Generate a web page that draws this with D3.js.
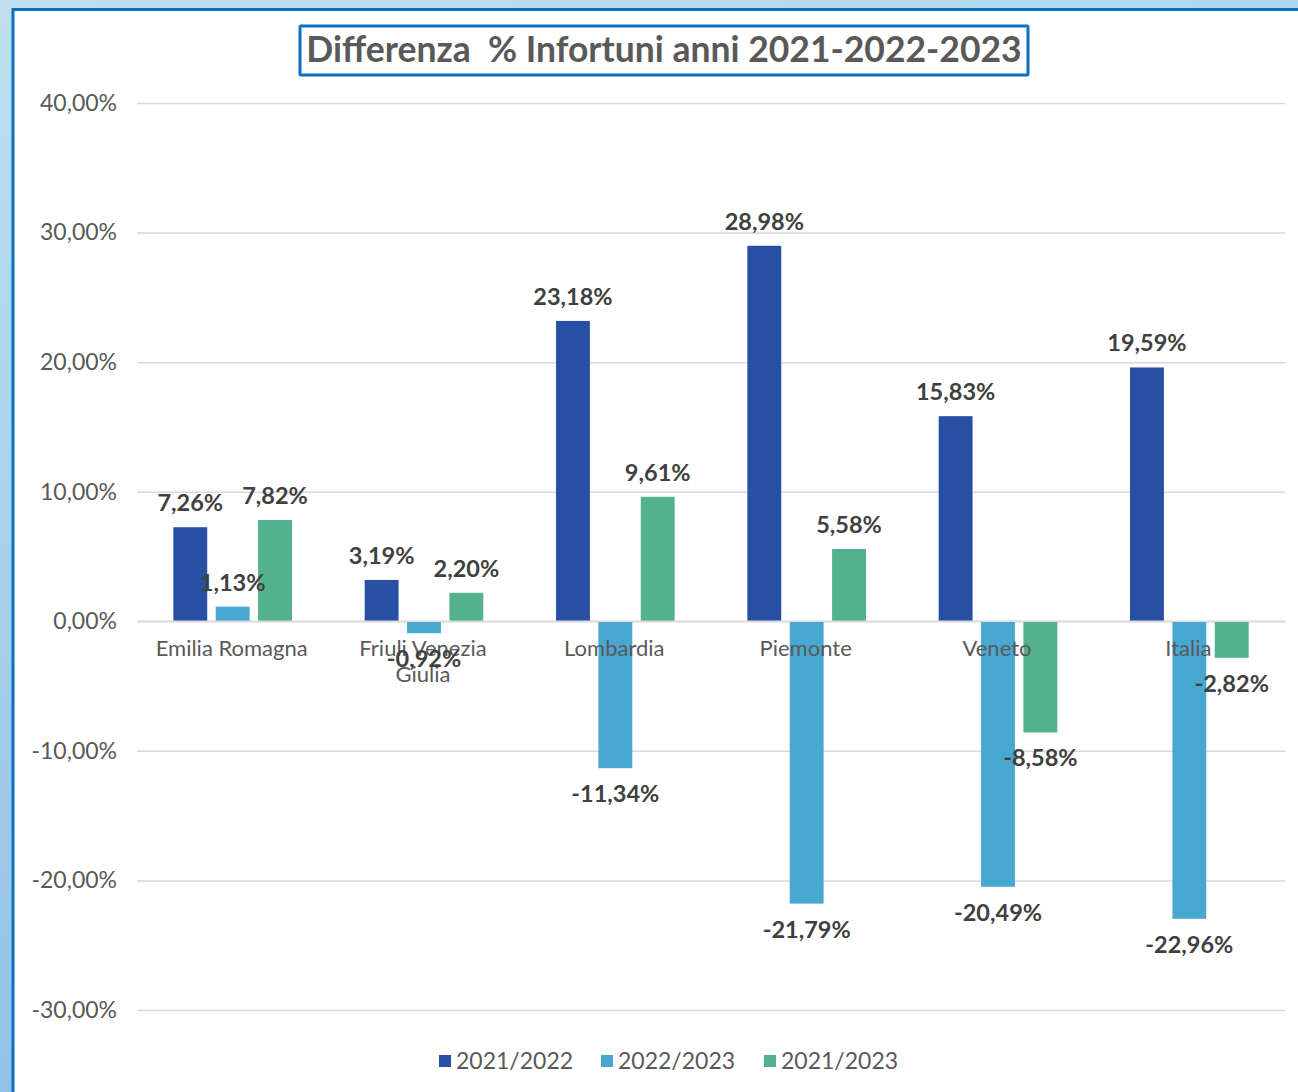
<!DOCTYPE html>
<html>
<head>
<meta charset="utf-8">
<script src="https://cdn.jsdelivr.net/npm/d3@7/dist/d3.min.js"></script>
<style>
  html, body { margin: 0; padding: 0; background: #fff; }
  svg { display: block; }
  text { font-family: "Lato", "Noto Sans", sans-serif; }
</style>
</head>
<body>
<svg id="chart" width="1298" height="1092"></svg>
<script>
const categories = [["Emilia Romagna"], ["Friuli Venezia", "Giulia"], ["Lombardia"], ["Piemonte"], ["Veneto"], ["Italia"]];
const seriesNames = ["2021/2022", "2022/2023", "2021/2023"];
const s2021_2022 = [7.26, 3.19, 23.18, 28.98, 15.83, 19.59];
const s2022_2023 = [1.13, -0.92, -11.34, -21.79, -20.49, -22.96];
const s2021_2023 = [7.82, 2.20, 9.61, 5.58, -8.58, -2.82];
const yTicks = [40, 30, 20, 10, 0, -10, -20, -30];
const colors = ["#2750A5", "#48A8D2", "#53B18E"];
const titleText = "Differenza  % Infortuni anni 2021-2022-2023";

const series = [s2021_2022, s2022_2023, s2021_2023];
const svg = d3.select("#chart");
const W = 1298, H = 1092;
const pct = v => d3.format(".2f")(v).replace(".", ",").replace("\u2212", "-") + "%";

// background gradient
const defs = svg.append("defs");
const g = defs.append("linearGradient").attr("id", "bg").attr("x1", 0).attr("y1", 0).attr("x2", 0.3).attr("y2", 1);
g.append("stop").attr("offset", "0%").attr("stop-color", "#BEE0F0");
g.append("stop").attr("offset", "100%").attr("stop-color", "#8FC0E6");
svg.append("rect").attr("width", W).attr("height", H).attr("fill", "url(#bg)");
// panel
svg.append("rect").attr("x", 13).attr("y", 9.5).attr("width", W + 20).attr("height", H + 20)
  .attr("fill", "#fff").attr("stroke", "#0A70C0").attr("stroke-width", 3);

const plot = { left: 137, right: 1285, top: 103, bottom: 1010 };
const y = d3.scaleLinear().domain([-30, 40]).range([plot.bottom, plot.top]);
const x0 = d3.scaleBand().domain(d3.range(categories.length)).range([plot.left, plot.right]).padding(0);
const x1 = d3.scaleBand().domain(d3.range(series.length))
  .range([x0.bandwidth() * 0.19, x0.bandwidth() * 0.81]).paddingInner(0.2).paddingOuter(0);

// gridlines + ticks
const yAxis = d3.axisLeft(y).tickValues(yTicks).tickSize(-(plot.right - plot.left)).tickPadding(20)
  .tickFormat(pct);
const ga = svg.append("g").attr("transform", `translate(${plot.left},0)`).call(yAxis);
ga.select(".domain").remove();
ga.selectAll(".tick line").attr("stroke", "#D9D9D9").attr("stroke-width", 1.5);
ga.selectAll(".tick text").attr("fill", "#595959").attr("font-size", 23).style("font-family", "Lato, sans-serif");

// bars
const groups = svg.append("g").selectAll("g").data(categories).join("g")
  .attr("transform", (d, i) => `translate(${x0(i)},0)`);
groups.each(function(c, ci) {
  const gg = d3.select(this);
  series.forEach((s, si) => {
    const v = s[ci];
    gg.append("rect")
      .attr("x", x1(si)).attr("width", x1.bandwidth())
      .attr("y", y(Math.max(0, v))).attr("height", Math.abs(y(v) - y(0)))
      .attr("fill", colors[si]);
  });
});

// zero line on top of bars
svg.append("line").attr("x1", plot.left).attr("x2", plot.right).attr("y1", y(0)).attr("y2", y(0))
  .attr("stroke", "#D9D9D9").attr("stroke-width", 1.5);

// category labels
groups.each(function(c, ci) {
  const cx = x0.bandwidth() / 2 - 1;
  const t = d3.select(this).append("text").attr("x", cx).attr("y", y(0) + 35)
    .attr("text-anchor", "middle").attr("fill", "#595959").attr("font-size", 22);
  c.forEach((line, li) => t.append("tspan").attr("x", cx).attr("dy", li === 0 ? 0 : 26).text(line));
});

// data labels
groups.each(function(c, ci) {
  const gg = d3.select(this);
  series.forEach((s, si) => {
    const v = s[ci];
    gg.append("text")
      .attr("x", x1(si) + x1.bandwidth() / 2)
      .attr("y", v >= 0 ? y(v) - 16 : y(v) + 34)
      .attr("text-anchor", "middle").attr("fill", "#404040")
      .attr("font-size", 23.5).attr("font-weight", "bold")
      .text(pct(v));
  });
});

// title
svg.append("rect").attr("x", 300).attr("y", 26).attr("width", 728).attr("height", 49)
  .attr("fill", "#fff").attr("stroke", "#0A70C0").attr("stroke-width", 3).attr("rx", 1);
svg.append("text").attr("x", 664).attr("y", 62).attr("text-anchor", "middle")
  .attr("fill", "#595959").attr("font-size", 35.5).attr("font-weight", "bold")
  .style("white-space", "pre").attr("xml:space", "preserve").text(titleText);

// legend
const legendX = [439, 601, 764];
const lg = svg.append("g").selectAll("g").data(seriesNames).join("g")
  .attr("transform", (d, i) => `translate(${legendX[i]},1061)`);
lg.append("rect").attr("x", 0).attr("y", -6).attr("width", 12).attr("height", 12).attr("fill", (d, i) => colors[i]);
lg.append("text").attr("x", 17).attr("y", 8).attr("fill", "#595959").attr("font-size", 23).text(d => d);
</script>
</body>
</html>
